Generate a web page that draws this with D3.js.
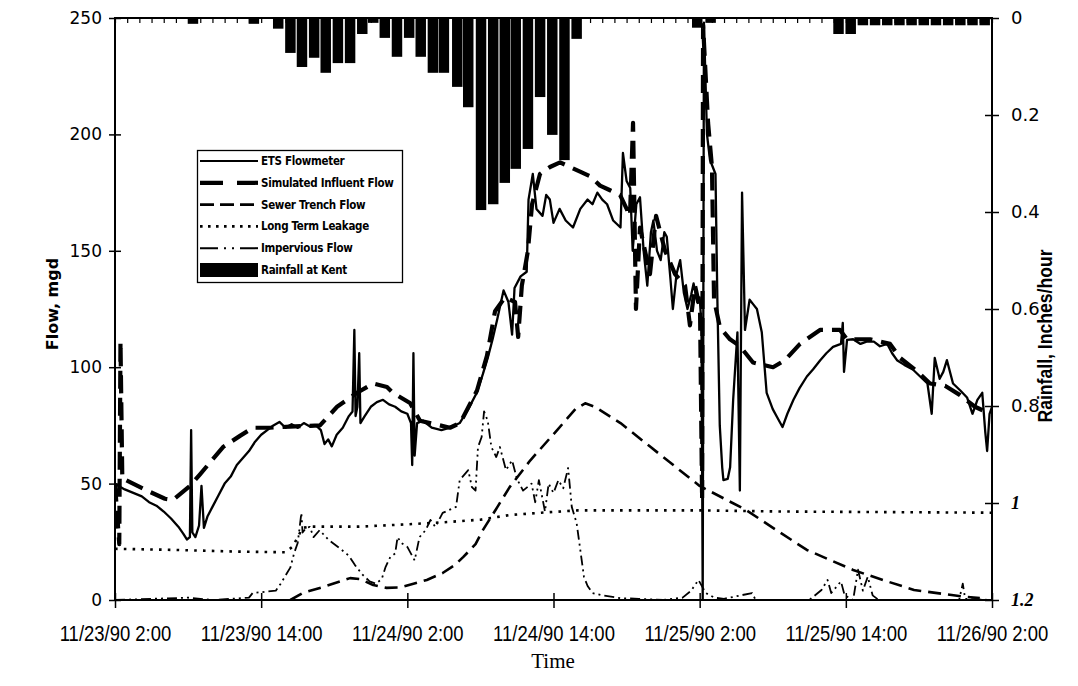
<!DOCTYPE html>
<html><head><meta charset="utf-8">
<script src="https://cdn.jsdelivr.net/npm/d3@7"></script>
<style>body{margin:0;background:#fff}svg{display:block}</style>
</head><body>
<svg id="chart" width="1078" height="686"></svg>
<script>
// ---------- data (hours since 11/23/90 2:00) ----------
const xTickLabels = ["11/23/90 2:00","11/23/90 14:00","11/24/90 2:00","11/24/90 14:00","11/25/90 2:00","11/25/90 14:00","11/26/90 2:00"];
const flowTicks = [0,50,100,150,200,250];
const rainTicks = [0,0.2,0.4,0.6,0.8,1,1.2];

const rainHour  = [6.4,11.4,13.4,14.4,15.35,16.35,17.3,18.3,19.3,20.3,21.2,22.15,23.15,24.15,25.1,26.1,27.0,28.1,29.0,30.05,31.05,32.0,32.9,33.9,34.9,35.9,36.9,37.9,47.8,48.9,59.4,60.4,61.4,62.4,63.4,64.4,65.4,66.4,67.4,68.4,69.4,70.4,71.4];
const rainValue = [0.012,0.012,0.022,0.072,0.101,0.082,0.113,0.093,0.093,0.033,0.01,0.041,0.080,0.041,0.080,0.113,0.113,0.142,0.184,0.396,0.384,0.340,0.311,0.270,0.163,0.241,0.293,0.043,0.02,0.01,0.033,0.033,0.015,0.015,0.015,0.015,0.015,0.015,0.015,0.015,0.015,0.015,0.015];

const etsFlow = [[0,50],[0.3,49],[0.8,47.5],[1.5,46],[2.2,44.5],[2.8,42],[3.4,40.5],[4.0,38],[4.6,35],[5.2,31.5],[5.6,28.5],[5.9,26],[6.15,27],[6.25,73],[6.35,29],[6.6,27],[6.9,32],[7.1,49],[7.3,31],[7.6,36],[8.0,40],[8.5,45],[9.0,50],[9.5,53],[10.0,58],[10.5,61],[11.0,64],[11.5,68],[12.0,71],[12.5,73],[13.0,75],[13.5,76.5],[14.0,74],[14.5,75.5],[15.0,74],[15.5,76],[16.0,74.5],[16.5,75],[16.9,73],[17.2,67],[17.5,69],[17.8,66],[18.2,71],[18.7,74],[19.2,79],[19.5,81],[19.65,116],[19.75,79],[19.9,83],[20.05,106],[20.15,76],[20.5,79],[21.0,83],[21.5,85],[22.0,86],[22.5,84],[23.0,83],[23.5,81],[24.0,80],[24.3,76],[24.4,58],[24.5,106],[24.6,62],[24.8,76],[25.3,77],[26.0,74],[26.8,73],[27.5,74],[28.3,76],[29.0,82],[29.7,89],[30.2,97],[30.6,104],[31.0,112],[31.4,121],[31.9,133],[32.3,128],[32.6,114],[32.8,134],[33.3,139],[33.8,141],[33.95,172],[34.3,183],[34.6,168],[35.1,165],[35.4,174],[35.7,172],[36.0,162],[36.5,168],[37.0,163],[37.6,160],[38.2,168],[38.8,172],[39.2,170],[39.6,175],[40.0,172],[40.4,170],[40.9,163],[41.5,160],[41.7,192],[42.0,180],[42.3,177],[42.5,150],[42.8,170],[43.1,173],[43.4,150],[43.7,135],[44.0,158],[44.2,163],[44.5,150],[44.8,146],[45.1,158],[45.3,156],[45.6,138],[45.8,125],[46.1,140],[46.4,146],[46.7,132],[47.0,125],[47.3,131],[47.5,136],[47.8,128],[48.0,130],[48.15,118],[48.25,0],[48.35,248],[48.6,200],[48.85,189],[49.3,183],[49.45,130],[49.65,75],[49.85,57],[49.95,51.5],[50.3,52],[50.5,57],[50.75,86],[51.1,115],[51.3,47],[51.48,175],[51.72,116],[52.1,129],[52.4,127],[52.7,125],[53.1,115],[53.5,89],[54.0,82],[54.35,78.6],[54.8,74.3],[55.2,80],[55.7,86],[56.2,91],[56.8,96],[57.3,99],[57.9,103],[58.4,106],[58.95,108.7],[59.6,110],[59.75,119],[59.85,98],[60.1,111.7],[60.6,112],[61.2,110],[61.7,111],[62.3,111],[62.8,109],[63.4,110],[63.8,106],[64.2,103],[64.8,101],[65.5,99],[66.1,96],[66.7,93],[67.05,80],[67.3,104],[67.7,95],[68.0,98],[68.3,103],[68.8,93],[69.4,90],[69.95,87],[70.4,80],[70.8,86],[71.2,89],[71.45,72],[71.6,64],[71.8,80],[72,83]];

const simulatedFlow = [[0,50],[0.35,24],[0.45,111],[0.6,52],[0.9,51.5],[2.63,47],[4.1,43.5],[4.76,43],[6.16,49],[6.98,54],[8.87,65.7],[10.26,70.5],[11.33,74],[12.73,74],[14.37,74.5],[16.83,75],[18.23,83],[19.87,89],[21.18,93],[22.33,91.5],[22.82,89],[24.22,84.6],[25.04,77],[26.68,75],[27.5,74],[28.33,76],[29.72,90],[30.54,105],[31.2,124],[32.02,130],[32.84,128],[33.1,113],[33.4,135],[33.9,150],[34.24,170],[34.89,183],[35.71,186],[36.54,188],[37.36,186],[38.18,184],[39.0,182],[39.82,178],[40.64,176],[41.46,174],[42.28,165],[42.53,205],[42.77,125],[43.1,160],[43.92,140],[44.42,165],[45.16,150],[45.98,140],[46.8,135],[47.2,118],[47.62,135],[48.03,125],[48.2,43],[48.28,247],[48.69,205],[49.01,186],[49.18,129],[49.67,117],[50.49,112],[51.31,109],[52.38,102],[54.02,100],[55.0,103],[56.24,110],[57.88,116],[59.52,116],[60.1,112],[61.99,112],[63.63,110],[64.45,104],[65.68,99],[66.91,93],[68.14,92],[69.38,88],[70.6,83],[71.84,80]];

const sewerTrenchFlow = [[14.4,0],[15.4,3],[17.1,5.6],[18.5,8],[19.3,9.4],[20.1,9],[21.2,6.4],[22.3,5.2],[23.4,5.4],[24.5,7],[25.6,8.6],[26.9,11.6],[27.9,15],[28.6,18.5],[29.6,24],[30.2,30],[31.4,40],[32.4,48.5],[34.1,60],[36.3,73],[37.8,82],[38.6,84.5],[39.4,83],[41.5,76],[43.9,66],[48.0,49],[51.8,38.7],[54.6,29],[56.8,21.5],[60.6,12.9],[62.8,9],[65.6,4.3],[69.7,1.4],[71,0.8]];

const longTermLeakage = [[0,22],[5,21.5],[10,20.8],[14,20.5],[14.6,23],[15,27],[15.4,31],[16,31.5],[20,31.5],[24,32.5],[27.3,33.5],[30,34.5],[32.4,36.5],[35,37.5],[38,38.5],[48,38.5],[55,38],[65,37.7],[72,37.5]];

const imperviousFlow = [[0,0],[3,0.5],[6,1],[8,0],[11,1],[11.3,3],[13.2,4],[13.6,7],[14.4,14],[14.7,20],[15.0,24.5],[15.2,33],[15.3,37.4],[15.4,29],[15.7,31],[16.0,31.4],[16.3,27],[16.8,30],[17.5,26],[18.5,22],[19.2,19],[19.7,15],[20.3,11],[20.9,8],[21.4,7],[21.9,9],[22.2,14],[22.6,18.5],[23.0,20],[23.2,27],[23.5,24.5],[24.0,22.8],[24.6,17],[25.0,27],[25.5,30],[25.9,34.4],[26.3,31.4],[26.9,37.4],[28.0,40],[28.3,51.5],[29.0,55.8],[29.3,48.5],[29.6,47],[29.8,65.7],[30.1,70],[30.3,81],[30.6,77],[30.9,65.7],[31.3,61.4],[31.6,65.7],[32.1,55.8],[32.6,60],[33.0,52],[33.5,47],[34.2,50],[34.5,42],[34.8,51.5],[35.3,38],[35.6,50],[36.0,46],[36.4,51.5],[36.8,48],[37.2,56.7],[37.5,40],[37.9,33],[38.2,21.5],[38.5,10],[38.8,6],[39.2,3],[40.0,2],[41.5,0.8],[43,0.5],[45,0],[46.6,1],[47.3,4],[47.9,8.6],[48.5,3],[49.2,1],[50,0.5],[52.3,3],[52.6,0],[57,0],[58.0,4.3],[58.5,8.6],[58.8,3],[59.6,8],[59.9,2],[60.6,0],[61.0,13],[61.4,4],[61.8,10],[62.2,2],[62.7,0],[69.3,0],[69.6,7],[69.8,0.5],[72,0]];

const legendLabels = ["ETS Flowmeter","Simulated Influent Flow","Sewer Trench Flow","Long Term Leakage","Impervious Flow","Rainfall at Kent"];

// ---------- chart ----------
const svg = d3.select("#chart");
const L = 115, R = 992, T = 18, B = 600;
const parseT = d3.timeParse("%m/%d/%y %H:%M");
const fmtT = d3.timeFormat("%-m/%-d/%y %-H:%M");
const tickDates = xTickLabels.map(parseT);
const t0 = tickDates[0], t1 = tickDates[tickDates.length - 1];
const hd = h => new Date(t0.getTime() + h * 3600e3);

const x = d3.scaleTime().domain([t0, t1]).range([L, R]);
const yF = d3.scaleLinear().domain([0, 250]).range([B, T]);
const yR = d3.scaleLinear().domain([0, 1.2]).range([T, B]);

svg.append("defs").append("clipPath").attr("id", "clip")
  .append("rect").attr("x", L).attr("y", T - 1).attr("width", R - L).attr("height", B - T + 1);

// rainfall bars (hanging from top)
svg.append("g").selectAll("rect").data(rainHour.map((h, i) => [h, rainValue[i]])).join("rect")
  .attr("x", d => x(hd(d[0] - 0.43)))
  .attr("width", d => x(hd(d[0] + 0.43)) - x(hd(d[0] - 0.43)))
  .attr("y", T)
  .attr("height", d => yR(d[1]) - T)
  .attr("fill", "#000");

// top hourly category ticks
svg.append("g").attr("transform", `translate(0,${T})`)
  .call(d3.axisTop(x).ticks(d3.timeHour.every(1)).tickSizeInner(-5).tickSizeOuter(0).tickFormat(""))
  .call(g => g.select(".domain").remove())
  .call(g => g.selectAll("line").attr("stroke-width", 1.2));

const line = d3.line().x(d => x(hd(d[0]))).y(d => yF(d[1]));
const lines = svg.append("g").attr("clip-path", "url(#clip)").attr("fill", "none").attr("stroke", "#000");

const styles = [
  {data: longTermLeakage, w: 2.6, dash: "2.6,6.2", cap: "butt"},
  {data: sewerTrenchFlow, w: 2.6, dash: "13,7", cap: "butt"},
  {data: imperviousFlow, w: 1.8, dash: "10,4,2,4,2,4", cap: "butt"},
  {data: etsFlow, w: 2.3, dash: null, cap: "round"},
  {data: simulatedFlow, w: 4.2, dash: "18,9", cap: "butt"}
];
styles.forEach(s => {
  lines.append("path").attr("d", line(s.data)).attr("stroke-width", s.w)
    .attr("stroke-dasharray", s.dash).attr("stroke-linejoin", "round").attr("stroke-linecap", s.cap);
});

// frame
svg.append("rect").attr("x", L).attr("y", T).attr("width", R - L).attr("height", B - T)
  .attr("fill", "none").attr("stroke", "#000").attr("stroke-width", 2);

// left axis
svg.append("g").attr("transform", `translate(${L},0)`)
  .call(d3.axisLeft(yF).tickValues(flowTicks).tickSizeInner(6).tickSizeOuter(0).tickPadding(7).tickFormat(d3.format("d")))
  .call(g => g.select(".domain").remove())
  .call(g => g.selectAll(".tick line").attr("x1", 6).attr("stroke-width", 1.5))
  .call(g => g.selectAll("text").attr("font-family", "DejaVu Sans, sans-serif").attr("font-size", 17).attr("fill", "#000"));

// right axis
svg.append("g").attr("transform", `translate(${R},0)`)
  .call(d3.axisRight(yR).tickValues(rainTicks).tickSizeInner(7).tickSizeOuter(0).tickPadding(12).tickFormat(d => String(+d.toFixed(1))))
  .call(g => g.select(".domain").remove())
  .call(g => g.selectAll(".tick line").attr("x1", -7).attr("stroke-width", 1.5))
  .call(g => g.selectAll("text").attr("font-family", "DejaVu Sans, sans-serif").attr("font-size", 18).attr("fill", "#000"))
  .call(g => g.selectAll("text").filter(d => d >= 1)
      .attr("font-family", "Liberation Serif, serif").attr("font-style", "italic").attr("font-weight", "bold").attr("font-size", 18));

// bottom axis (condensed labels)
svg.append("g").attr("transform", `translate(0,${B})`)
  .call(d3.axisBottom(x).tickValues(tickDates).tickSizeInner(8).tickSizeOuter(0).tickPadding(17).tickFormat(fmtT))
  .call(g => g.select(".domain").remove())
  .call(g => g.selectAll(".tick line").attr("y1", -7).attr("stroke-width", 1.5))
  .call(g => g.selectAll("text").attr("font-family", "Liberation Sans, Arial, sans-serif").attr("font-size", 22)
      .attr("fill", "#000").attr("transform", "scale(0.84,1)"));

// axis titles
svg.append("text").attr("transform", "translate(58,304) rotate(-90)").attr("text-anchor", "middle")
  .attr("font-family", "DejaVu Sans, sans-serif").attr("font-weight", "bold").attr("font-size", 16).text("Flow, mgd");
svg.append("text").attr("transform", "translate(1052,336) rotate(-90) scale(0.88,1)").attr("text-anchor", "middle")
  .attr("font-family", "Liberation Sans, Arial, sans-serif").attr("font-weight", "bold").attr("font-size", 20).text("Rainfall, Inches/hour");
svg.append("text").attr("x", 553).attr("y", 668).attr("text-anchor", "middle")
  .attr("font-family", "Liberation Serif, Times New Roman, serif").attr("font-size", 21).text("Time");

// legend
const lg = svg.append("g");
lg.append("rect").attr("x", 197.5).attr("y", 150.5).attr("width", 205).attr("height", 132)
  .attr("fill", "#fff").attr("stroke", "#000").attr("stroke-width", 1.3);
const legendStyles = [
  {w: 2.2, dash: null},
  {w: 4.2, dash: "23,14"},
  {w: 2.6, dash: "14,6"},
  {w: 2.6, dash: "2.6,5.4"},
  {w: 2, dash: "18,6,2,6,2,6"},
  null
];
legendLabels.forEach((lab, i) => {
  const yy = 161 + i * 21.8;
  const s = legendStyles[i];
  if (s) {
    lg.append("line").attr("x1", 200).attr("x2", 258).attr("y1", yy).attr("y2", yy)
      .attr("stroke", "#000").attr("stroke-width", s.w).attr("stroke-dasharray", s.dash);
  } else {
    lg.append("rect").attr("x", 200).attr("y", yy - 7).attr("width", 58).attr("height", 14).attr("fill", "#000");
  }
  lg.append("text").attr("x", 261).attr("y", yy).attr("dy", "0.35em")
    .attr("font-family", "DejaVu Sans Condensed, DejaVu Sans, sans-serif").attr("font-weight", "bold")
    .attr("font-size", 11.5).attr("letter-spacing", -0.3).text(lab);
});
</script>
</body></html>
